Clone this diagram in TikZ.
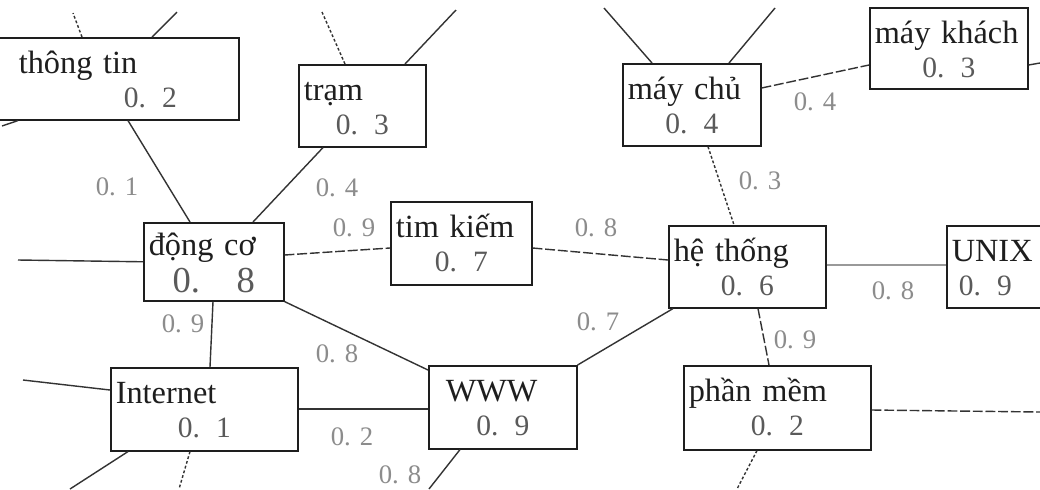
\documentclass[tikz,border=0pt]{standalone}
\usepackage{fontspec}
\setmainfont{Liberation Serif}
\usetikzlibrary{calc}
\definecolor{netInk}{HTML}{1E1E1E}
\definecolor{netLine}{HTML}{333333}
\definecolor{netVal}{HTML}{5A5A5A}
\definecolor{netWt}{HTML}{8C8C8C}
\newcommand{\valtxt}[1]{{\color{netVal}\fontsize{21}{24}\selectfont #1}}
\newcommand{\val}[1]{\makebox[\linewidth]{\valtxt{#1}}}
\tikzset{
  cpt/.style={draw=netInk, line width=1.1pt, fill=white, anchor=north west, inner xsep=0.125cm, inner ysep=0pt, align=left, text height=0.9cm, text depth=1.15cm, font=\fontsize{23}{24}\selectfont, text=netInk},
  wt/.style={text=netWt, font=\fontsize{19}{20}\selectfont, inner sep=0pt},
  link/.style={draw=netLine, line width=1pt},
  brk/.style={link, dash pattern=on 7pt off 2pt},
  dots/.style={link, dash pattern=on 2pt off 1.5pt},
  faint/.style={link, draw=black!40},
}

\begin{document}
\begin{tikzpicture}[x=0.025cm, y=-0.025cm]
\fill[white] (0,0) rectangle (1040,489);
\useasboundingbox (0,0) rectangle (1040,489);

\node[cpt, text width=5.75cm] (info) at (-2,37) {\hspace*{0.375cm}thông tin\\\hspace*{3cm}\valtxt{0. 2}};
\node[cpt, text width=2.925cm] (station) at (298,64) {trạm\\\val{0. 3}};
\node[cpt, text width=3.2cm] (server) at (622,63) {máy chủ\\\val{0. 4}};
\node[cpt, text width=3.7cm, text depth=1.125cm] (client) at (869,7) {máy khách\\\val{0. 3}};
\node[cpt, text width=3.25cm, text height=0.825cm, text depth=1.125cm, font=\fontsize{23}{26.2}\selectfont] (engine) at (143,222) {động cơ\\\val{\fontsize{26}{26.2}\selectfont 0.\quad8}};
\node[cpt, text width=3.275cm, text depth=1.175cm] (search) at (390,201) {tim kiếm\\\val{0. 7}};
\node[cpt, text width=3.675cm] (system) at (668,225) {hệ thống\\\val{0. 6}};
\node[cpt, text width=2.5cm] (unix) at (946,225) {UNIX\\\hspace*{0.175cm}\valtxt{0. 9}};
\node[cpt, text width=4.425cm, text depth=1.175cm] (internet) at (110,367) {Internet\\\val{0. 1}};
\node[cpt, text width=3.45cm, text depth=1.175cm] (www) at (428,365) {\hspace*{0.3cm}WWW\\\val{0. 9}};
\node[cpt, text width=4.425cm, text depth=1.2cm] (software) at (683,365) {phần mềm\\\val{0. 2}};

\coordinate (infoL) at (2,126);
\coordinate (infoT1) at (73,13);
\coordinate (infoT2) at (177,12);
\coordinate (stT1) at (322,12);
\coordinate (stT2) at (456,10);
\coordinate (svT1) at (604,8);
\coordinate (svT2) at (775,8);
\coordinate (clR) at (1040,63);
\coordinate (engL) at (18,260);
\coordinate (inL) at (23,380);
\coordinate (inB1) at (70,489);
\coordinate (inB2) at (179,489);
\coordinate (wwwB) at (429,489);
\coordinate (swB) at (737,489);
\coordinate (swR) at (1040,412);

\draw[link] ($(info.south west)+(130,0)$) -- ($(engine.north west)+(47,0)$);
\draw[link] ($(station.south west)+(25,0)$) -- ($(engine.north west)+(110,0)$);
\draw[brk] ($(engine.north east)+(0,33)$) -- ($(search.north west)+(0,47)$);
\draw[brk] ($(search.north east)+(0,47)$) -- ($(system.north west)+(0,35)$);
\draw[brk] ($(server.north east)+(0,25)$) -- ($(client.north west)+(0,58)$);
\draw[link] ($(client.north east)+(0,58)$) -- (clR);
\draw[dots] ($(server.south west)+(86,0)$) -- ($(system.north west)+(66,0)$);
\draw[faint] ($(system.north east)+(0,40)$) -- ($(unix.north west)+(0,40)$);
\draw[link] ($(engine.south west)+(70,0)$) -- ($(internet.north west)+(100,0)$);
\draw[link] (engine.south east) -- ($(www.north west)+(0,5)$);
\draw[link] ($(system.south west)+(5,0)$) -- (www.north east);
\draw[brk] ($(system.south west)+(90,0)$) -- ($(software.north west)+(86,0)$);
\draw[link] ($(internet.north east)+(0,42)$) -- ($(www.north west)+(0,44)$);
\draw[brk] ($(software.north east)+(0,45)$) -- (swR);
\draw[link] (inL) -- ($(internet.north west)+(0,23)$);
\draw[link] ($(internet.south west)+(18,0)$) -- (inB1);
\draw[dots] ($(internet.south west)+(80,0)$) -- (inB2);
\draw[link] ($(www.south west)+(32,0)$) -- (wwwB);
\draw[dots] ($(software.south west)+(74,0)$) -- (swB);
\draw[link] (engL) -- (engine.west);
\draw[link] (infoL) -- ($(info.south west)+(20,0)$);
\draw[dots] ($(info.north west)+(84,0)$) -- (infoT1);
\draw[link] ($(info.north west)+(154,0)$) -- (infoT2);
\draw[dots] ($(station.north west)+(47,0)$) -- (stT1);
\draw[link] ($(station.north west)+(107,0)$) -- (stT2);
\draw[link] ($(server.north west)+(30,0)$) -- (svT1);
\draw[link] ($(server.north west)+(107,0)$) -- (svT2);

\node[wt] (w1) at (117,187) {0. 1};
\node[wt] (w2) at (337,188) {0. 4};
\node[wt] (w3) at (354,228) {0. 9};
\node[wt] (w4) at (596,228) {0. 8};
\node[wt] (w5) at (815,102) {0. 4};
\node[wt] (w6) at (760,181) {0. 3};
\node[wt] (w7) at (893,291) {0. 8};
\node[wt] (w8) at (795,340) {0. 9};
\node[wt] (w9) at (183,324) {0. 9};
\node[wt] (w10) at (337,354) {0. 8};
\node[wt] (w11) at (598,322) {0. 7};
\node[wt] (w12) at (352,437) {0. 2};
\node[wt] (w13) at (400,475) {0. 8};
\end{tikzpicture}
\end{document}
